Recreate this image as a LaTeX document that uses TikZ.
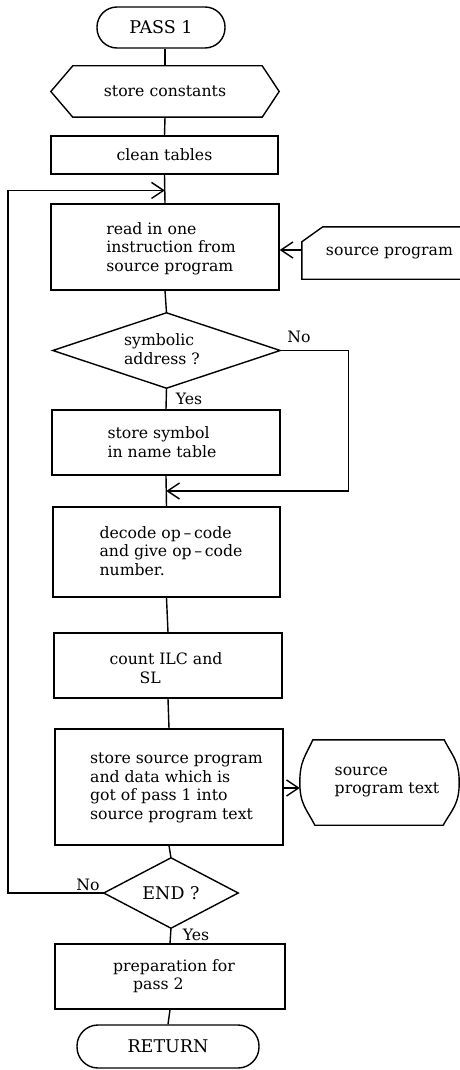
\documentclass[tikz,border=0pt]{standalone}
\usepackage{fontspec}
\setmainfont{DejaVu Serif}
\usetikzlibrary{arrows.meta}
\newcommand\chartfont{\fontsize{15.7pt}{18.5pt}\selectfont}
\newcommand\capsfont{\fontsize{17.5pt}{20pt}\selectfont}

\begin{document}
\begin{tikzpicture}[x=1pt,y=-1pt,
  flow/.style={line width=1.4pt},
  barb/.style={-{Straight Barb[length=12pt,width=16pt,line width=1.4pt]}},
  box/.style={draw,line width=1.4pt,rectangle,inner sep=0pt,font=\chartfont},
  shell/.style={rectangle,inner sep=0pt,font=\chartfont},
  txt/.style={align=left,inner sep=0pt,font=\chartfont},
  term/.style={box,rounded corners=20pt,font=\capsfont},
  tag/.style={inner sep=0pt,font=\chartfont}]

\useasboundingbox (0,0) rectangle (460,1070);

% terminator
\node[term, minimum width=128pt, minimum height=41pt] (start) at (161,27.5) {PASS 1};

% preparation (hexagon)
\node[shell, minimum width=228pt, minimum height=51pt] (const) at (165,91.5) {store constants};
\draw[flow] ([xshift=22pt]const.north west) -- ([xshift=-17pt]const.north east)
  -- (const.east) -- ([xshift=-17pt]const.south east)
  -- ([xshift=22pt]const.south west) -- (const.west) -- cycle;

\node[box, minimum width=227pt, minimum height=38pt] (clean) at (164.5,155) {clean tables};

\node[box, minimum width=228pt, minimum height=86pt] (read) at (165,247) {};
\node[txt] (readtxt) at (171,248.5) {read in one\\instruction from\\source program};

% input card
\node[shell, minimum width=158pt, minimum height=52pt] (card) at (381,253) {};
\node[tag] (cardtxt) at (389.5,253) {source program};
\draw[flow] (card.north east) -- ([xshift=21pt]card.north west)
  -- ([yshift=-15pt]card.north west) -- (card.south west) -- (card.south east);

% decision: symbolic address
\node[shell, minimum width=227pt, minimum height=75pt] (sym) at (166.5,350.5) {};
\draw[flow] (sym.north) -- (sym.east) -- (sym.south) -- (sym.west) -- cycle;
\node[txt] (symtxt) at (162,349) {symbolic\\address ?};
\node[tag] (symno) at (299,337) {No};
\node[tag] (symyes) at (189,399) {Yes};

\node[box, minimum width=228pt, minimum height=65pt] (storesym) at (166,442.5) {};
\node[txt] (storesymtxt) at (162,442) {store symbol\\in name table};

\node[box, minimum width=227pt, minimum height=90pt] (decode) at (166.5,552) {};
\node[txt] (decodetxt) at (171,551) {decode op\,–\,code\\and give op\,–\,code\\number.};

\node[box, minimum width=228pt, minimum height=65pt] (count) at (168,665.5) {};
\node[txt] (counttxt) at (166,668) {count ILC and\\\hspace*{30pt}SL};

\node[box, minimum width=228pt, minimum height=116pt] (storesrc) at (169,787) {};
\node[txt] (storesrctxt) at (176.5,788) {store source program\\and data which is\\got of pass 1 into\\source program text};

% stored data
\node[shell, minimum width=159pt, minimum height=85pt] (barrel) at (379.5,782.5) {};
\node[txt] (barreltxt) at (387,782) {source\\program text};
\draw[flow] ([xshift=13pt]barrel.north west) -- ([xshift=-15pt]barrel.north east)
  .. controls ([xshift=-7pt,yshift=-16pt]barrel.north east) and ([yshift=22pt]barrel.east) .. (barrel.east)
  .. controls ([yshift=-22pt]barrel.east) and ([xshift=-7pt,yshift=16pt]barrel.south east) .. ([xshift=-16pt]barrel.south east)
  -- ([xshift=15pt]barrel.south west)
  .. controls ([xshift=7pt,yshift=16pt]barrel.south west) and ([yshift=-22pt]barrel.west) .. (barrel.west)
  .. controls ([yshift=22pt]barrel.west) and ([xshift=6pt,yshift=-16pt]barrel.north west) .. ([xshift=13pt]barrel.north west)
  -- cycle;

% decision: END
\node[shell, minimum width=134pt, minimum height=70pt, font=\capsfont] (end) at (171,893) {END ?};
\draw[flow] (end.north) -- (end.east) -- (end.south) -- (end.west) -- cycle;
\node[tag] (endno) at (88,885) {No};
\node[tag] (endyes) at (196,935) {Yes};

\node[box, minimum width=230pt, minimum height=65pt] (prep) at (170,976.5) {};
\node[txt] (preptxt) at (174,976) {preparation for\\\hspace*{20pt}pass 2};

\node[term, rounded corners=21pt, minimum width=182pt, minimum height=43pt] (ret) at (168,1046.5) {RETURN};

% connectors
\draw[flow] (const.north) -- (const.north |- start.south);
\draw[flow] (const.south) -- (clean.north);
\draw[flow] (clean.south) -- (read.north);
\draw[flow] (read.south) -- (sym.north);
\draw[flow] (sym.south) -- (storesym.north);
\draw[flow] (storesym.south) -- (decode.north);
\draw[flow] (decode.south) -- (count.north);
\draw[flow] (count.south) -- (storesrc.north);
\draw[flow] (storesrc.south) -- (end.north);
\draw[flow] (end.south) -- (prep.north);
\draw[flow] (prep.south) -- (ret.north);

\path (storesym.south) -- (decode.north) coordinate[pos=0.5] (merge);
\path (clean.south) -- (read.north) coordinate[pos=0.55] (loopin);

\draw[flow,barb] ([yshift=3pt]card.west) -- ([yshift=3pt]card.west -| read.east);
\draw[flow,barb] (sym.east) -- ++(68,0) |- (merge);
\draw[flow,barb] (end.west) -- ++(-96,0) |- (loopin);
\draw[flow,barb] ([yshift=-1pt]storesrc.east) -- ([yshift=-1pt]storesrc.east -| barrel.west);

\end{tikzpicture}
\end{document}
